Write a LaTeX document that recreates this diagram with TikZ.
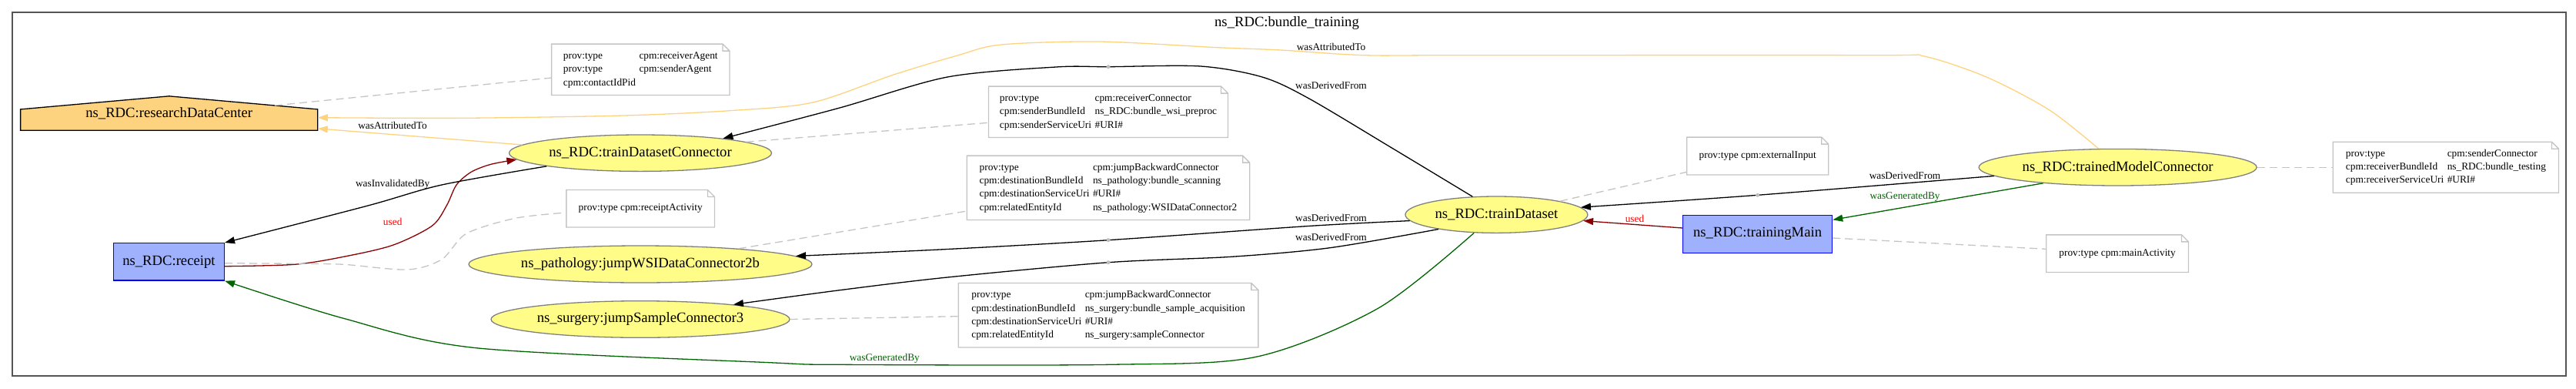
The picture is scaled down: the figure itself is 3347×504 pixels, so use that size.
\documentclass[tikz,border=0pt]{standalone}
\usepackage{fontspec}
\setmainfont{Liberation Serif}
\usetikzlibrary{shapes.geometric,arrows.meta,backgrounds,calc}
\definecolor{agentfill}{HTML}{FED37F}
\definecolor{actfill}{HTML}{9FB1FC}
\definecolor{actline}{HTML}{0000FF}
\definecolor{entfill}{HTML}{FFFC87}
\definecolor{entline}{HTML}{808080}
\definecolor{noteline}{HTML}{C4C4C4}
\definecolor{framecol}{HTML}{555555}
\definecolor{dkred}{HTML}{8B0000}
\definecolor{dkgreen}{HTML}{006400}
\definecolor{lblred}{HTML}{FF0000}
\definecolor{dotgray}{HTML}{BEBEBE}
\newcommand\nodefont{\fontsize{18.67}{22}\selectfont}
\newcommand\lblfont{\fontsize{13.33}{17.3}\selectfont}
\begin{document}
\begin{tikzpicture}[x=1pt,y=-1pt,
 ent/.style={ellipse, draw=entline, fill=entfill, line width=1.3pt, inner sep=0pt, font=\nodefont},
 act/.style={rectangle, draw=actline, fill=actfill, line width=1.3pt, inner sep=0pt, font=\nodefont},
 agt/.style={rectangle, inner sep=0pt, font=\nodefont},
 notebox/.style={rectangle, inner sep=0pt, font=\lblfont, align=left},
 lbl/.style={font=\lblfont, inner sep=0pt},
 rel/.style={line width=1.3pt, -{Triangle[length=13pt,width=9pt]}},
 annot/.style={draw=noteline, line width=1.3pt, dash pattern=on 10pt off 6pt},
 noteline/.style={draw=noteline, line width=1.3pt},
]
\useasboundingbox (0,0) rectangle (3347,504);
\draw[framecol, line width=2pt] (16,16) rectangle (3334,488);
\node[font=\nodefont] (title) at (1672,30) {ns\_RDC:bundle\_training};

% main nodes
\node[agt, minimum width=385.8pt, minimum height=44pt] (rdc) at (219.7,147) {ns\_RDC:researchDataCenter};
\begin{scope}[on background layer]
\draw[fill=agentfill, line width=1.3pt] (rdc.south west) -- (rdc.south east) -- ([yshift=27.3pt]rdc.south east) -- (rdc.north) -- ([yshift=27.3pt]rdc.south west) -- cycle;
\end{scope}
\node[ent, minimum width=341pt, minimum height=47.4pt] (tdc) at (832,198.7) {ns\_RDC:trainDatasetConnector};
\node[ent, minimum width=446pt, minimum height=48pt] (wsi) at (832,343) {ns\_pathology:jumpWSIDataConnector2b};
\node[ent, minimum width=388pt, minimum height=47.6pt] (smp) at (832,414.5) {ns\_surgery:jumpSampleConnector3};
\node[ent, minimum width=237pt, minimum height=47.4pt] (td) at (1944.4,278.7) {ns\_RDC:trainDataset};
\node[ent, minimum width=361pt, minimum height=47.6pt] (tmc) at (2751.6,217.2) {ns\_RDC:trainedModelConnector};
\node[act, minimum width=144pt, minimum height=48.3pt] (rcp) at (219.4,339.8) {ns\_RDC:receipt};
\node[act, minimum width=194pt, minimum height=49pt] (tm) at (2283.6,303.8) {ns\_RDC:trainingMain};

% notes
\node[notebox, minimum width=231pt, minimum height=66pt] (n1) at (832.3,90.3)
 {\begin{tabular}{@{}l@{\hspace{4.5pt}}l@{}}prov:type & cpm:receiverAgent\\ prov:type & cpm:senderAgent\\ cpm:contactIdPid & \end{tabular}};
\node[notebox, minimum width=310.7pt, minimum height=66pt] (n2) at (1440,145.3)
 {\begin{tabular}{@{}l@{\hspace{4.5pt}}l@{}}prov:type & cpm:receiverConnector\\ cpm:senderBundleId & ns\_RDC:bundle\_wsi\_preproc\\ cpm:senderServiceUri & \#URI\#\end{tabular}};
\node[notebox, minimum width=192.3pt, minimum height=48pt] (n3) at (832.2,270.7) {prov:type cpm:receiptActivity};
\node[notebox, minimum width=367pt, minimum height=83pt] (n4) at (1440,243.8)
 {\begin{tabular}{@{}l@{\hspace{4.5pt}}l@{}}prov:type & cpm:jumpBackwardConnector\\ cpm:destinationBundleId & ns\_pathology:bundle\_scanning\\ cpm:destinationServiceUri & \#URI\#\\ cpm:relatedEntityId & ns\_pathology:WSIDataConnector2\end{tabular}};
\node[notebox, minimum width=389.3pt, minimum height=83pt] (n5) at (1440,409.2)
 {\begin{tabular}{@{}l@{\hspace{4.5pt}}l@{}}prov:type & cpm:jumpBackwardConnector\\ cpm:destinationBundleId & ns\_surgery:bundle\_sample\_acquisition\\ cpm:destinationServiceUri & \#URI\#\\ cpm:relatedEntityId & ns\_surgery:sampleConnector\end{tabular}};
\node[notebox, minimum width=183.7pt, minimum height=48.4pt] (n6) at (2283.7,202.5) {prov:type cpm:externalInput};
\node[notebox, minimum width=184.4pt, minimum height=48.3pt] (n7) at (2751.1,329.2) {prov:type cpm:mainActivity};
\node[notebox, minimum width=292.8pt, minimum height=65.7pt] (n8) at (3177.9,217.2)
 {\begin{tabular}{@{}l@{\hspace{4.5pt}}l@{}}prov:type & cpm:senderConnector\\ cpm:receiverBundleId & ns\_RDC:bundle\_testing\\ cpm:receiverServiceUri & \#URI\#\end{tabular}};
\foreach \n in {n1,n2,n3,n4,n5,n6,n7,n8}
 \draw[noteline] (\n.north west) -- ([xshift=-9pt]\n.north east) -- ([yshift=-9pt]\n.north east) -- (\n.south east) -- (\n.south west) -- cycle
   ([xshift=-9pt]\n.north east) |- ([yshift=-9pt]\n.north east);

% helper coordinates
\coordinate (d1) at (1440,86.7);
\coordinate (d2) at (1440,311.7);
\coordinate (d3) at (1440,340.7);
\coordinate (d4) at (2283.7,253.3);
\coordinate (rdcA) at ([yshift=2.3pt]rdc.south east);
\coordinate (rdcB) at ([yshift=-5.7pt]rdc.east);
\coordinate (tmA) at ([yshift=-6.7pt]tm.north east);
\coordinate (tmB) at ([yshift=7.8pt]tm.west);
\coordinate (rcpA) at ([yshift=-5.9pt]rcp.east);
\coordinate (rcpB) at ([yshift=-1.9pt]rcp.east);
\coordinate (roof) at (357,136.9);

% relations
\draw[rel, color=agentfill] (tdc.176) -- (rdcA);
\draw[rel, color=agentfill] plot[smooth] coordinates {(tmc.136) (2663,143) (2581,100) (2500,73) (2440,71.7) (1900,71.7) (1772,71.7) (1664,65) (1582,61.7) (1428,54) (1301,58) (1245,71.7) (1161,97) (1056,133) (951,143.5) (810,150) (600,153.3) (rdcB)};
\draw[rel] plot[smooth] coordinates {(td.143) (1810,193) (1700,127.5) (1640,100) (1560,86) (d1) (1372,87) (1231,100) (1091,140) (tdc.10)};
\draw[rel] plot[smooth] coordinates {(td.184) (1700,293.5) (d2) (1231,323.5) (wsi.3)};
\draw[rel] plot[smooth] coordinates {(td.194) (1728,321.7) (1600,333.3) (d3) (1231,360) (1091,376.7) (smp.9)};
\draw[rel] plot[smooth] coordinates {(tmc.184) (d4) (td.5)};
\draw[rel, color=dkgreen] (tmc.192) -- (tmA);
\draw[rel, color=dkred] (tmB) -- (td.356);
\draw[rel, color=dkgreen] plot[smooth] coordinates {(td.219) (1791,400) (1632,463.3) (1442,473.3) (1091,473.3) (1000,470.7) (618.6,451.7) (446.4,413.3) (rcp.south east)};
\draw[rel, color=dkred] plot[smooth] coordinates {(rcpA) (382.7,343.3) (446.4,333.3) (510.2,318.3) (561.2,293.3) (580.4,266.7) (593.1,240) (612.2,223.3) (637.8,213.3) (tdc.183)};
\draw[rel] plot[smooth] coordinates {(tdc.188) (574,240) (478,267) (rcp.north east)};

% dots on split relations
\foreach \d in {d1,d2,d3,d4} \fill[dotgray] (\d) circle (2.5pt);

% annotation links
\draw[annot] (roof) -- ([yshift=-10.7pt]n1.west);
\draw[annot] (tdc.6) -- ([yshift=-14pt]n2.west);
\draw[annot] plot[smooth] coordinates {(rcpB) (382.7,342.3) (446.4,343.3) (529.3,350) (574,336.7) (605.9,303.3) (669.6,283.3) ([yshift=-5.3pt]n3.west)};
\draw[annot] (wsi.9) -- ([yshift=-30.2pt]n4.west);
\draw[annot] (smp.east) -- ([yshift=-1.5pt]n5.west);
\draw[annot] (td.12) -- ([yshift=-20.8pt]n6.west);
\draw[annot] ([yshift=-5.2pt]tm.east) -- ([yshift=5.9pt]n7.west);
\draw[annot] (tmc.east) -- (n8.west);

% labels
\node[lbl] (l1) at (510,163.3) {wasAttributedTo};
\node[lbl] (l2) at (1729.5,61) {wasAttributedTo};
\node[lbl] (l3) at (1729.5,111) {wasDerivedFrom};
\node[lbl] (l4) at (1729.5,283.3) {wasDerivedFrom};
\node[lbl] (l5) at (1729.5,308.3) {wasDerivedFrom};
\node[lbl] (l6) at (2475,228) {wasDerivedFrom};
\node[lbl, text=dkgreen] (l7) at (2475,255.3) {wasGeneratedBy};
\node[lbl, text=lblred] (l8) at (2124,284) {used};
\node[lbl, text=dkgreen] (l9) at (1149.3,465) {wasGeneratedBy};
\node[lbl, text=lblred] (l10) at (510.2,287.7) {used};
\node[lbl] (l11) at (510.2,239) {wasInvalidatedBy};
\end{tikzpicture}
\end{document}
